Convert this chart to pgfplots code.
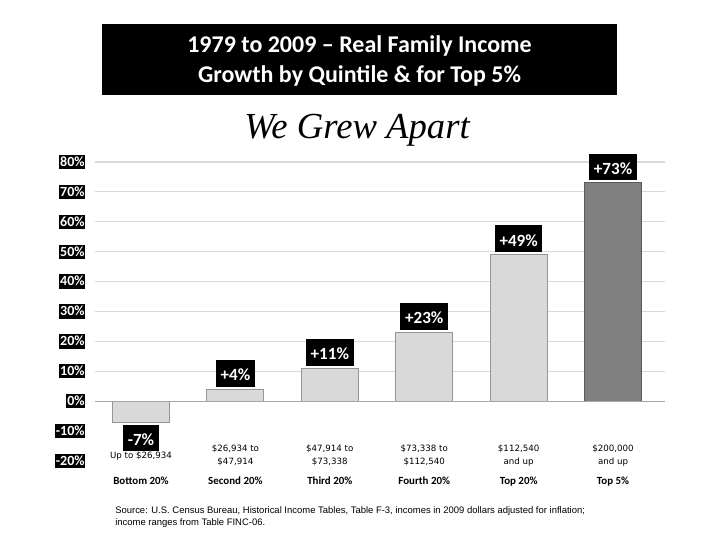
\documentclass[border=0pt]{standalone}
\usepackage{pgfplots}
\pgfplotsset{compat=1.18}
\usepackage{fontspec}
\setmainfont{Carlito}
\newfontfamily\srcfont{Liberation Sans}
\newfontfamily\rngfont{DejaVu Sans}
\newfontfamily\titleserif{Liberation Serif}
\definecolor{barlight}{HTML}{D9D9D9}
\definecolor{barlightedge}{HTML}{959595}
\definecolor{bardark}{HTML}{808080}
\definecolor{bardarkedge}{HTML}{5A5A5A}
\definecolor{gridc}{HTML}{D9D9D9}
\definecolor{zeroc}{HTML}{A6A6A6}
\begin{document}
\begin{tikzpicture}[x=0.75pt,y=0.75pt]
\useasboundingbox (0,0) rectangle (720,540);
\fill[black] (102,445) rectangle (617,516);
\node[text=white,font=\bfseries\fontsize{18}{22.5}\selectfont,align=center] at (359.5,479) {1979 to 2009 – Real Family Income\\Growth by Quintile \& for Top 5\%};
\node[font=\titleserif\itshape\fontsize{27.5}{30}\selectfont] at (357,410) {We Grew Apart};
\begin{axis}[
  at={(71.25pt,59.25pt)}, anchor=south west,
  scale only axis, width=427.5pt, height=224.25pt,
  xmin=-0.487, xmax=5.55, ymin=-20, ymax=80,
  axis line style={draw=none}, major tick length=0pt,
  ytick={0,10,...,80},
  yticklabels={0\%,10\%,20\%,30\%,40\%,50\%,60\%,70\%,80\%},
  extra y ticks={-10,-20},
  extra y tick labels={-10\%,-20\%},
  extra y tick style={grid=none},
  ymajorgrids, grid style={gridc, line width=0.8pt},
  yticklabel style={font=\bfseries\fontsize{10.5}{12}\selectfont, fill=black, text=white,
     inner xsep=0.6pt, inner ysep=0.6pt, text height=8pt, text depth=1.5pt, anchor=east, xshift=-7pt},
  xtick={0,...,5},
  xticklabels={{Up to \$26,934},{\$26,934 to\\\$47,914},{\$47,914 to\\\$73,338},{\$73,338 to\\\$112,540},{\$112,540\\and up},{\$200,000\\and up}},
  xticklabel style={font=\rngfont\fontsize{6.5}{9.75}\selectfont, align=center, anchor=center, yshift=3.9pt},
  extra x ticks={0,...,5},
  extra x tick labels={Bottom 20\%,Second 20\%,Third 20\%,Fourth 20\%,Top 20\%,Top 5\%},
  extra x tick style={xticklabel style={font=\bfseries\fontsize{8.2}{10}\selectfont, anchor=center,
     text height=6pt, text depth=2pt, yshift=-19.3pt}},
  nodes near coords={\pgfmathprintnumber[showpos,assume math mode=true]{\pgfplotspointmeta}\%},
  every node near coord/.append style={fill=black, text=white, font=\bfseries\fontsize{12.8}{14}\selectfont,
     inner xsep=3.5pt, inner ysep=3pt, text height=12.5pt, text depth=1.5pt, outer sep=2pt},
  clip=false,
]
\addplot[ybar, bar width=42.75pt, bar shift=0pt, fill=barlight, draw=barlightedge, line width=0.8pt]
  coordinates {(0,-7) (1,4) (2,11) (3,23) (4,49)};
\addplot[ybar, bar width=42.75pt, bar shift=0pt, fill=bardark, draw=bardarkedge, line width=0.8pt]
  coordinates {(5,73)};
\draw[zeroc, line width=0.9pt] (axis cs:-0.487,0) -- (axis cs:5.55,0);
\end{axis}
\node[font=\srcfont\fontsize{7.1}{9}\selectfont, align=left, anchor=north west, inner sep=0pt] at (115,34)
 {Source: U.S. Census Bureau, Historical Income Tables, Table F-3, incomes in 2009 dollars adjusted for inflation;\\income ranges from Table FINC-06.};
\end{tikzpicture}
\end{document}
